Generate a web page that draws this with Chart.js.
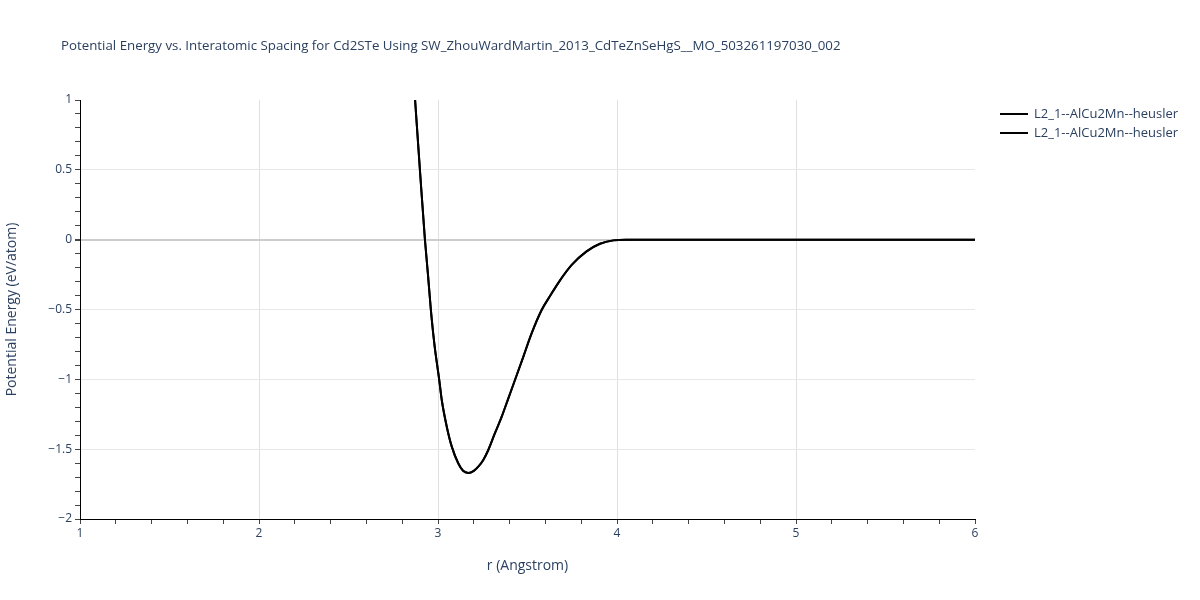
<!DOCTYPE html>
<html>
<head>
<meta charset="utf-8">
<script src="https://cdn.jsdelivr.net/npm/chart.js@4/dist/chart.umd.min.js"></script>
<style>
html,body{margin:0;padding:0;background:#fff;}
#wrap{width:1200px;height:600px;position:relative;}
</style>
</head>
<body>
<div id="wrap"><canvas id="c" width="1200" height="600"></canvas></div>
<script>
const TITLE = "Potential Energy vs. Interatomic Spacing for Cd2STe Using SW_ZhouWardMartin_2013_CdTeZnSeHgS__MO_503261197030_002";
const seriesNames = ["L2_1--AlCu2Mn--heusler", "L2_1--AlCu2Mn--heusler"];
const rValues = [2.872, 2.899, 2.927, 2.944, 2.960, 2.980, 3.007, 3.021, 3.049, 3.077, 3.113, 3.140, 3.169, 3.200, 3.225, 3.253, 3.281, 3.318, 3.356, 3.393, 3.430, 3.477, 3.523, 3.579, 3.630, 3.677, 3.747, 3.830, 3.905, 3.980, 4.050, 4.500, 5.000, 5.500, 6.000];
const energyValues = [1.0, 0.499, 0.0, -0.25, -0.50, -0.75, -1.005, -1.148, -1.339, -1.482, -1.601, -1.655, -1.670, -1.655, -1.625, -1.577, -1.506, -1.386, -1.267, -1.136, -1.005, -0.837, -0.671, -0.504, -0.395, -0.300, -0.181, -0.084, -0.029, -0.005, 0.0, 0.0, 0.0, 0.0, 0.0];
const xTickLabels = [1, 2, 3, 4, 5, 6];
const yTickLabels = [1, 0.5, 0, -0.5, -1, -1.5, -2];

const FONT = "'Open Sans', verdana, arial, sans-serif";
const TXT = '#2a3f5f';

function pts(){ return rValues.map((r,i)=>({x:r,y:energyValues[i]})); }
const near = (v, arr) => arr.some(t => Math.abs(v - t) < 1e-6);
const fmt = v => (v < 0 ? '\u2212' + Math.abs(v) : String(v));

const overlay = {
  id:'overlay',
  afterDraw(chart){
    const ctx = chart.ctx;
    ctx.save();
    ctx.fillStyle = TXT;
    ctx.font = "13.3px " + FONT;
    ctx.textBaseline = 'middle';
    ctx.textAlign = 'left';
    ctx.fillText(TITLE, 61, 46);
    ctx.font = "13px " + FONT;
    const ys = [114, 133];
    seriesNames.forEach((n,i)=>{
      ctx.strokeStyle = '#000';
      ctx.lineWidth = 2;
      ctx.beginPath(); ctx.moveTo(1000, ys[i]); ctx.lineTo(1028, ys[i]); ctx.stroke();
      ctx.fillStyle = TXT;
      ctx.fillText(n, 1034, ys[i]);
    });
    ctx.restore();
  }
};

new Chart(document.getElementById('c'), {
  type:'scatter',
  data:{
    datasets: seriesNames.map(n=>({
      label:n, data:pts(), showLine:true, borderColor:'#000', backgroundColor:'#000',
      borderWidth:2, pointRadius:0, cubicInterpolationMode:'monotone', fill:false
    }))
  },
  options:{
    responsive:false, animation:false, devicePixelRatio:1,
    layout:{padding:{top:100, right:225, left:0, bottom:0}},
    plugins:{legend:{display:false}, title:{display:false}, tooltip:{enabled:false}},
    scales:{
      x:{
        type:'linear', min:1, max:6,
        afterFit(s){ s.height = 81; },
        ticks:{stepSize:0.2, autoSkip:false, maxRotation:0, color:TXT, font:{family:FONT,size:12}, padding:2,
          callback:(v)=> near(v, xTickLabels) ? String(Math.round(v)) : ''},
        grid:{drawOnChartArea:true, tickLength:5, tickColor:'#444',
          color:(c)=>{ const v=c.tick && c.tick.value; return (near(v,[2,3,4,5])) ? '#e0e0e0' : 'rgba(0,0,0,0)'; }},
        border:{display:true, color:'#000', width:1},
        title:{display:true, text:'r (Angstrom)', color:TXT, font:{family:FONT,size:14}, padding:{top:4, bottom:26}}
      },
      y:{
        type:'linear', min:-2, max:1,
        afterFit(s){ s.width = 80; },
        ticks:{stepSize:0.1, autoSkip:false, color:TXT, font:{family:FONT,size:12}, padding:3,
          callback:(v)=> near(v, yTickLabels) ? fmt(Math.round(v*10)/10) : ''},
        grid:{tickLength:5, tickColor:'#444',
          color:(c)=>{ const v=c.tick && c.tick.value; if (Math.abs(v)<1e-6) return '#cccccc'; return near(v,[0.5,-0.5,-1,-1.5]) ? '#e8e8e8' : 'rgba(0,0,0,0)'; },
          lineWidth:(c)=>{ const v=c.tick && c.tick.value; return Math.abs(v)<1e-6 ? 2 : 1; }},
        border:{display:true, color:'#000', width:1},
        title:{display:true, text:'Potential Energy (eV/atom)', color:TXT, font:{family:FONT,size:14}, padding:{bottom:8}}
      }
    }
  },
  plugins:[overlay]
});
</script>
</body>
</html>
